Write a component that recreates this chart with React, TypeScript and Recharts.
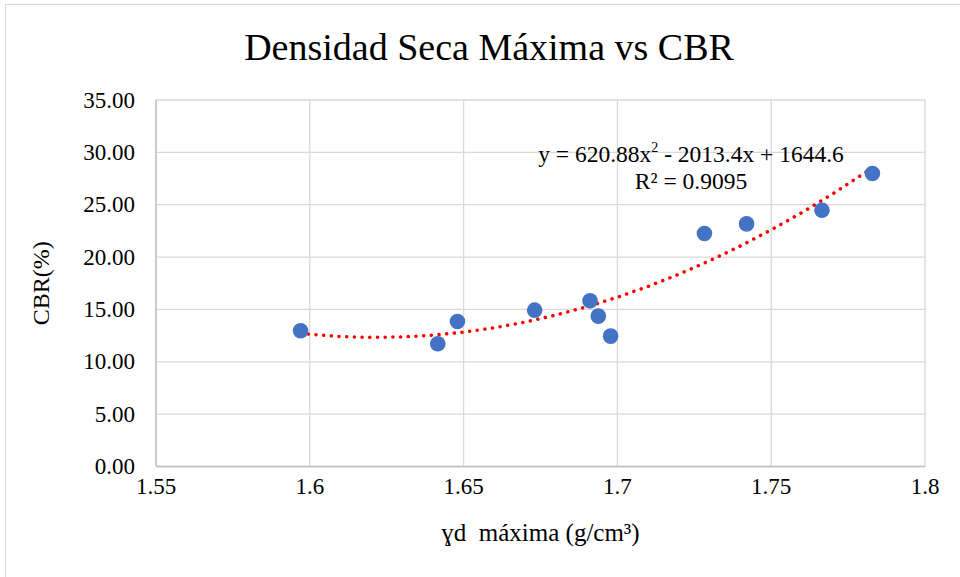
import React from 'react';
import { ScatterChart, Scatter, XAxis, YAxis, CartesianGrid, Label } from 'recharts';

// measured points: γd máxima (g/cm³) vs CBR (%)
const densidad = [1.597, 1.6416, 1.648, 1.6731, 1.6911, 1.6938, 1.6978, 1.7283, 1.742, 1.7665, 1.7829];
const cbr = [12.96, 11.72, 13.85, 14.93, 15.82, 14.36, 12.45, 22.25, 23.17, 24.47, 27.98];

// polynomial trendline (order 2)
const trendX = [1.597, 1.61, 1.62, 1.63, 1.64, 1.65, 1.66, 1.67, 1.68, 1.69, 1.7, 1.71, 1.72, 1.73, 1.74, 1.75, 1.76, 1.77, 1.783];
const trendY = [12.70, 12.41, 12.33, 12.37, 12.54, 12.83, 13.25, 13.79, 14.46, 15.25, 16.16, 17.20, 18.36, 19.65, 21.06, 22.60, 24.25, 26.04, 28.54];

const xTicks = [1.55, 1.6, 1.65, 1.7, 1.75, 1.8];
const yTicks = [0, 5, 10, 15, 20, 25, 30, 35];

const points = densidad.map((x, i) => ({ x, y: cbr[i] }));
const trend = trendX.map((x, i) => ({ x, y: trendY[i] }));

const font = '"Liberation Serif", "Times New Roman", serif';

const XTick = (p: any) => (
  <text x={p.x} y={p.y} dy={10} textAnchor="middle" dominantBaseline="central" fill="#000" fontSize={23} fontFamily={font}>
    {String(p.payload.value)}
  </text>
);

const YTick = (p: any) => (
  <text x={p.x} y={p.y} textAnchor="end" dominantBaseline="central" fill="#000" fontSize={23} fontFamily={font}>
    {Number(p.payload.value).toFixed(2)}
  </text>
);

export default function App() {
  return (
    <div style={{ position: 'absolute', left: 0, top: 0, width: 960, height: 577, background: '#fff', fontFamily: font }}>
      <div style={{ position: 'absolute', left: 5, top: 4, width: 970, height: 590, border: '1px solid #d9d9d9' }} />
      <div style={{ position: 'absolute', left: 0, top: 25, width: 978, textAlign: 'center', fontSize: 38, color: '#000' }}>
        Densidad Seca Máxima vs CBR
      </div>
      <ScatterChart width={960} height={577} margin={{ top: 100, right: 35, bottom: 30, left: 0 }} style={{ position: 'absolute', left: 0, top: 0 }}>
        <CartesianGrid stroke="#d9d9d9" strokeWidth={1.3} />
        <XAxis
          type="number"
          dataKey="x"
          domain={[1.55, 1.8]}
          ticks={xTicks}
          tickLine={false}
          tickSize={6}
          tickMargin={4}
          height={80.5}
          axisLine={{ stroke: '#bfbfbf', strokeWidth: 1.3 }}
          tick={<XTick />}
        >
          <Label value={'ɣd\u00a0\u00a0máxima (g/cm³)'} position="insideBottom" offset={6} style={{ fill: '#000', fontSize: 25, fontFamily: font }} />
        </XAxis>
        <YAxis
          type="number"
          dataKey="y"
          domain={[0, 35]}
          ticks={yTicks}
          tickLine={false}
          tickSize={6}
          tickMargin={15}
          width={156}
          axisLine={{ stroke: '#bfbfbf', strokeWidth: 1.3 }}
          tick={<YTick />}
        >
          <Label value="CBR(%)" angle={-90} position="insideLeft" offset={40} style={{ fill: '#000', fontSize: 24, fontFamily: font, textAnchor: 'middle' }} />
        </YAxis>
        <Scatter
          data={trend}
          isAnimationActive={false}
          line={{ stroke: '#ff0000', strokeWidth: 3.5, strokeDasharray: '0.1 7.6', strokeLinecap: 'round' }}
          lineType="joint"
          shape={() => <g />}
        />
        <Scatter data={points} isAnimationActive={false} fill="#4472c4" shape={(p: any) => <circle cx={p.cx} cy={p.cy} r={7.8} fill="#4472c4" />} />
      </ScatterChart>
      <div style={{ position: 'absolute', left: 491, top: 141, width: 400, textAlign: 'center', fontSize: 23.5, lineHeight: '27px', color: '#000' }}>
        y = 620.88x<sup style={{ fontSize: 14, verticalAlign: 'top', lineHeight: '14px' }}>2</sup> - 2013.4x + 1644.6
        <br />
        R² = 0.9095
      </div>
    </div>
  );
}
